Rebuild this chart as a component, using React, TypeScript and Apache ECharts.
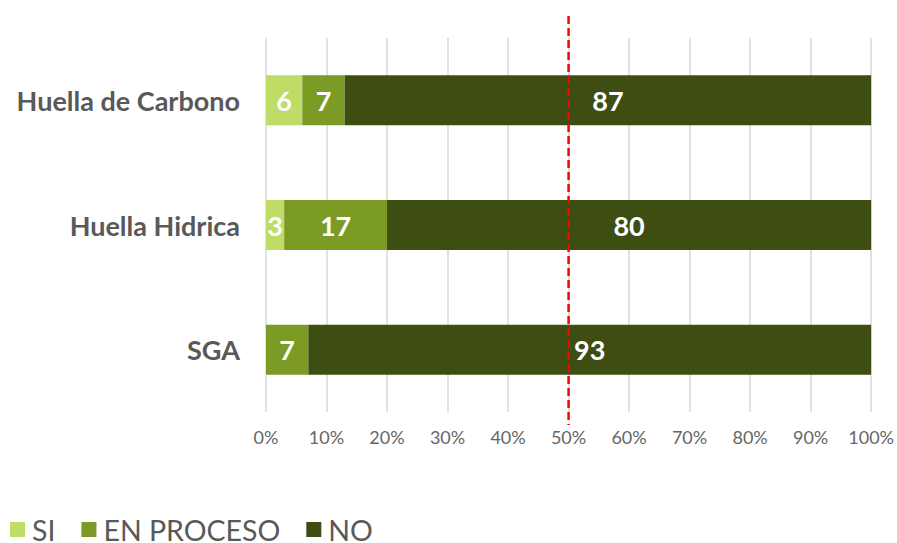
import React, { useEffect, useRef } from "react";
import * as echarts from "echarts";

const categories = ["Huella de Carbono", "Huella Hidrica", "SGA"];
const siValues = [6, 3, 0];
const enProcesoValues = [7, 17, 7];
const noValues = [87, 80, 93];
const seriesNames = ["SI", "EN PROCESO", "NO"];
const seriesColors = ["#BFDC66", "#7B9B24", "#3E4D12"];
const referenceValue = 50;

export default function App() {
  const ref = useRef<HTMLDivElement>(null);
  useEffect(() => {
    document.body.style.margin = "0";
    if (!ref.current) return;
    const chart = echarts.init(ref.current, null, { renderer: "svg" });
    const font = "Lato, 'Open Sans', sans-serif";
    const allValues = [siValues, enProcesoValues, noValues];
    chart.setOption({
      animation: false,
      textStyle: { fontFamily: font },
      grid: { left: 266, right: 23, top: 38, bottom: 131, containLabel: false },
      legend: {
        left: 10,
        top: 515,
        padding: 0,
        itemWidth: 15,
        itemHeight: 15,
        itemGap: 26,
        icon: "rect",
        textStyle: { fontSize: 28.5, lineHeight: 28, color: "#595959", fontFamily: font, padding: [0, 0, 0, 2] },
        data: seriesNames,
      },
      xAxis: {
        type: "value",
        min: 0,
        max: 100,
        interval: 10,
        axisLine: { show: false },
        axisTick: { show: false },
        axisLabel: { formatter: "{value}%", fontSize: 18, color: "#666666", margin: 16, fontFamily: font },
        splitLine: { lineStyle: { color: "#D9D9D9", width: 1.5 } },
      },
      yAxis: {
        type: "category",
        inverse: true,
        data: categories,
        axisLine: { show: false },
        axisTick: { show: false },
        axisLabel: { fontSize: 27, fontWeight: "bold", color: "#595959", margin: 26, fontFamily: font },
      },
      series: seriesNames.map((name, i) => ({
        name,
        type: "bar",
        stack: "total",
        barWidth: 50,
        data: allValues[i],
        itemStyle: { color: seriesColors[i] },
        label: {
          show: true,
          position: "inside",
          color: "#ffffff",
          fontSize: 27,
          fontWeight: "bold",
          fontFamily: font,
          formatter: (p: any) => (p.value ? String(p.value) : ""),
        },
      })),
    });
    const x = chart.convertToPixel({ xAxisIndex: 0 }, referenceValue) as number;
    chart.setOption({
      graphic: [
        {
          type: "line",
          shape: { x1: x, y1: 16, x2: x, y2: 425 },
          style: { stroke: "#FF0000", lineWidth: 2.5, lineDash: [8, 4] },
          z: 100,
        },
      ],
    });
    return () => chart.dispose();
  }, []);
  return <div ref={ref} style={{ width: 897, height: 543 }} />;
}
